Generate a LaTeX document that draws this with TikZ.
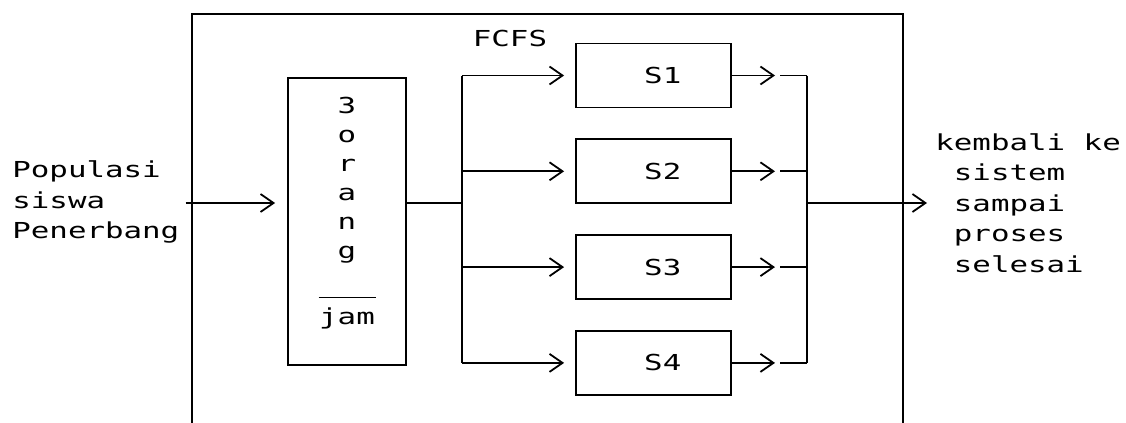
\documentclass[tikz,border=0pt]{standalone}
\usepackage{fontspec}
\newfontfamily\printfont[FakeStretch=1.4]{DejaVu Sans Mono}
\usetikzlibrary{arrows.meta, positioning}
\tikzset{
  teks/.style={
    inner sep=0pt, align=left,
    font=\printfont\fontsize{11pt}{15.25pt}\selectfont
  },
  server/.style={
    rectangle, draw=black, line width=0.9pt,
    minimum width=77.5pt, minimum height=32pt, inner sep=0pt,
    font=\printfont\fontsize{11pt}{13pt}\selectfont
  },
  antri/.style={
    rectangle, draw=black, line width=0.9pt,
    minimum width=59pt, minimum height=143.5pt
  },
  arrow/.style={-{Straight Barb[length=6.5pt,width=9pt]}, line width=0.9pt},
  garis/.style={line width=0.9pt}
}

\begin{document}
\begin{tikzpicture}[x=0.5pt, y=-0.5pt, node distance=15pt]
  \useasboundingbox (0,0) rectangle (1126,423);

  % batas sistem (terbuka di bawah)
  \draw[garis] (192,423) -- (192,14) -- (903,14) -- (903,423);

  \node[teks, anchor=west] (populasi) at (12,202) {Populasi\\siswa\\Penerbang};
  \node[antri] (antrian) at (347,221.5) {};
  \node[teks, align=center, font=\printfont\fontsize{11pt}{14.5pt}\selectfont] (laju) at (347,213)
    {3\\o\\r\\a\\n\\g\\[5.5pt]\rule{28.5pt}{0.8pt}\\[-1.5pt]jam};

  \node[teks] (fcfs) at (510,38) {FCFS};
  \node[server] (s1) at (653.5,75.5) {\phantom{S}S1};
  \node[server, below=of s1] (s2) {\phantom{S}S2};
  \node[server, below=of s2] (s3) {\phantom{S}S3};
  \node[server, below=of s3] (s4) {\phantom{S}S4};

  \node[teks, anchor=west] (kembali) at (935,203)
    {kembali ke\\\phantom{k}sistem\\\phantom{k}sampai\\\phantom{k}proses\\\phantom{k}selesai};

  \coordinate (bagi) at (462,203);
  \coordinate (gabung) at (807,203);

  \draw[arrow, shorten <=3pt, shorten >=6pt] (populasi.east |- bagi) -- (antrian.west |- bagi);
  \draw[garis] (antrian.east |- bagi) -- (bagi);
  \draw[garis] (bagi |- s1) -- (bagi |- s4);
  \draw[arrow, shorten >=5.5pt] (bagi |- s1) -- (s1.west);
  \draw[arrow, shorten >=5.5pt] (bagi |- s2) -- (s2.west);
  \draw[arrow, shorten >=5.5pt] (bagi |- s3) -- (s3.west);
  \draw[arrow, shorten >=5.5pt] (bagi |- s4) -- (s4.west);

  \draw[arrow, shorten >=16pt] (s1.east) -- (gabung |- s1);
  \draw[arrow, shorten >=16pt] (s2.east) -- (gabung |- s2);
  \draw[arrow, shorten >=16pt] (s3.east) -- (gabung |- s3);
  \draw[arrow, shorten >=16pt] (s4.east) -- (gabung |- s4);
  \draw[garis] (gabung |- s1) -- ++(-13.5pt,0);
  \draw[garis] (gabung |- s2) -- ++(-13.5pt,0);
  \draw[garis] (gabung |- s3) -- ++(-13.5pt,0);
  \draw[garis] (gabung |- s4) -- ++(-13.5pt,0);
  \draw[garis] (gabung |- s1) -- (gabung |- s4);
  \draw[arrow, shorten >=4pt] (gabung) -- (gabung -| kembali.west);
\end{tikzpicture}
\end{document}
